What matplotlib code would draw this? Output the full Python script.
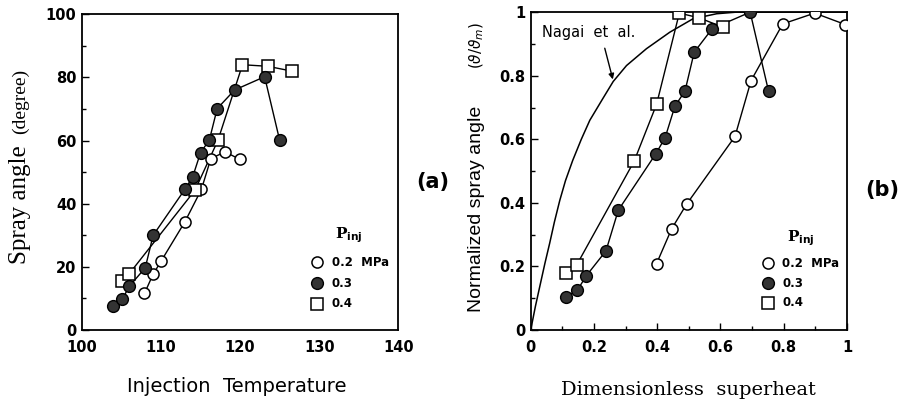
import matplotlib.pyplot as plt
from matplotlib.ticker import MultipleLocator, FuncFormatter

# ---- panel (a): spray angle vs injection temperature ----
temp_02 = [107.9, 109.0, 110.0, 113.0, 115.1, 116.3, 118.1, 120.0]
angle_02 = [11.6, 17.7, 21.8, 34.2, 44.5, 54.3, 56.4, 54.0]

temp_03 = [103.9, 105.1, 106.0, 108.0, 109.0, 113.0, 114.0, 115.0, 116.1, 117.1, 119.3, 123.1, 125.0]
angle_03 = [7.7, 9.8, 13.9, 19.7, 30.0, 44.5, 48.5, 56.2, 60.1, 70.1, 76.0, 80.2, 60.1]

temp_04 = [105.1, 105.9, 114.3, 117.2, 120.3, 123.5, 126.5]
angle_04 = [15.5, 17.6, 44.3, 60.1, 84.0, 83.5, 82.0]

# ---- panel (b): normalized spray angle vs dimensionless superheat ----
sh_02 = [0.398, 0.446, 0.493, 0.646, 0.697, 0.797, 0.898, 0.995]
norm_02 = [0.209, 0.319, 0.396, 0.609, 0.785, 0.963, 0.997, 0.961]

sh_03 = [0.113, 0.148, 0.176, 0.238, 0.277, 0.396, 0.425, 0.456, 0.488, 0.517, 0.574, 0.694, 0.752]
norm_03 = [0.105, 0.126, 0.171, 0.249, 0.377, 0.555, 0.605, 0.704, 0.752, 0.874, 0.948, 1.0, 0.752]

sh_04 = [0.113, 0.145, 0.327, 0.398, 0.470, 0.533, 0.607]
norm_04 = [0.180, 0.204, 0.531, 0.710, 0.997, 0.982, 0.953]

nagai_x = [0.0, 0.015, 0.0285, 0.045, 0.060, 0.075, 0.092, 0.11, 0.133, 0.16, 0.187, 0.228, 0.261,
           0.303, 0.366, 0.44, 0.513, 0.588, 0.65, 1.0]
nagai_y = [0.0, 0.075, 0.136, 0.21, 0.273, 0.34, 0.408, 0.47, 0.534, 0.60, 0.660, 0.728, 0.782,
           0.832, 0.885, 0.937, 0.979, 0.995, 1.0, 1.0]

legend_labels = ['0.2  MPa', '0.3', '0.4']

FILL = '#333333'

fig = plt.figure(figsize=(9.01, 4.05), dpi=100)
ax1 = fig.add_axes([0.091, 0.185, 0.351, 0.780])
ax2 = fig.add_axes([0.589, 0.185, 0.351, 0.785])


def style_axes(ax):
    ax.tick_params(which='both', direction='in', top=False, right=False)
    ax.tick_params(which='major', length=5, width=1, pad=4)
    ax.tick_params(which='minor', length=3, width=1)
    for s in ax.spines.values():
        s.set_linewidth(1.3)
    for lab in ax.get_xticklabels() + ax.get_yticklabels():
        lab.set_fontsize(10.5)
        lab.set_fontweight('bold')


def draw_series(ax, xs, ys, kind):
    ax.plot(xs, ys, '-', color='black', lw=1.0, zorder=2)
    if kind == 'open':
        ax.plot(xs, ys, 'o', ms=8, mfc='white', mec='black', mew=1.1, zorder=3)
    elif kind == 'filled':
        ax.plot(xs, ys, 'o', ms=8.5, mfc=FILL, mec='black', mew=1.0, zorder=4)
    else:
        ax.plot(xs, ys, 's', ms=8, mfc='white', mec='black', mew=1.1, zorder=3)


def draw_legend(ax, x0, y0, dy, px, py):
    # positions in axes fraction
    ax.text(px, py, r'P$_{\mathbf{inj}}$', transform=ax.transAxes,
            fontsize=11, fontweight='bold', family='DejaVu Serif', ha='left', va='center')
    ax.plot([x0], [y0], 'o', ms=8, mfc='white', mec='black', mew=1.1, transform=ax.transAxes, clip_on=False)
    ax.plot([x0], [y0 - dy], 'o', ms=8.5, mfc=FILL, mec='black', mew=1.0, transform=ax.transAxes, clip_on=False)
    ax.plot([x0], [y0 - 2 * dy], 's', ms=8, mfc='white', mec='black', mew=1.1, transform=ax.transAxes, clip_on=False)
    for i, lab in enumerate(legend_labels):
        ax.text(x0 + 0.045, y0 - i * dy, lab, transform=ax.transAxes, fontsize=8.5,
                fontweight='bold', family='DejaVu Sans', ha='left', va='center')


# panel (a)
draw_series(ax1, temp_02, angle_02, 'open')
draw_series(ax1, temp_04, angle_04, 'square')
draw_series(ax1, temp_03, angle_03, 'filled')
ax1.set_xlim(100, 140)
ax1.set_ylim(0, 100)
ax1.xaxis.set_major_locator(MultipleLocator(10))
ax1.yaxis.set_major_locator(MultipleLocator(20))
ax1.yaxis.set_minor_locator(MultipleLocator(10))
style_axes(ax1)
ax1.tick_params(axis='x', which='major', length=0, pad=7)
draw_legend(ax1, 0.744, 0.215, 0.066, 0.80, 0.30)
ax1.text(-0.195, 0.21, 'Spray angle', transform=ax1.transAxes, rotation=90,
         fontsize=18, family='Liberation Serif', ha='center', va='bottom')
ax1.text(-0.195, 0.62, '(degree)', transform=ax1.transAxes, rotation=90,
         fontsize=14, family='Liberation Serif', ha='center', va='bottom')
ax1.text(0.49, -0.18, 'Injection  Temperature', transform=ax1.transAxes,
         fontsize=14, family='DejaVu Sans', ha='center', va='center')
fig.text(433 / 901, 1 - 182 / 405, '(a)', fontsize=15, fontweight='bold', ha='center', va='center')

# panel (b)
ax2.plot(nagai_x, nagai_y, '-', color='black', lw=1.1, zorder=1)
draw_series(ax2, sh_02, norm_02, 'open')
draw_series(ax2, sh_04, norm_04, 'square')
draw_series(ax2, sh_03, norm_03, 'filled')
ax2.set_xlim(0, 1)
ax2.set_ylim(0, 1)
ax2.xaxis.set_major_locator(MultipleLocator(0.2))
ax2.xaxis.set_minor_locator(MultipleLocator(0.1))
ax2.yaxis.set_major_locator(MultipleLocator(0.2))
ax2.yaxis.set_minor_locator(MultipleLocator(0.1))
fmt = FuncFormatter(lambda v, p: '0' if abs(v) < 1e-9 else ('1' if abs(v - 1) < 1e-9 else '%.1f' % v))
ax2.xaxis.set_major_formatter(fmt)
ax2.yaxis.set_major_formatter(fmt)
style_axes(ax2)
ax2.tick_params(axis='x', pad=7)
draw_legend(ax2, 0.75, 0.21, 0.062, 0.81, 0.29)
ax2.annotate('', xy=(0.262, 0.78), xytext=(0.232, 0.895),
             arrowprops=dict(arrowstyle='-|>', color='black', lw=1.0, mutation_scale=8))
ax2.text(0.035, 0.935, 'Nagai  et  al.', fontsize=10.5, family='DejaVu Sans', ha='left', va='center')
ax2.text(-0.17, 0.057, 'Normalized spray angle', transform=ax2.transAxes, rotation=90,
         fontsize=14, family='Liberation Sans', ha='center', va='bottom')
ax2.text(-0.17, 0.82, r'($\vartheta/\vartheta_m$)', transform=ax2.transAxes, rotation=90,
         fontsize=11, ha='center', va='bottom')
ax2.text(0.5, -0.19, 'Dimensionless  superheat', transform=ax2.transAxes,
         fontsize=14, family='DejaVu Serif', ha='center', va='center')
fig.text(882 / 901, 1 - 190 / 405, '(b)', fontsize=15, fontweight='bold', ha='center', va='center')

fig.savefig('out.png', dpi=100)
